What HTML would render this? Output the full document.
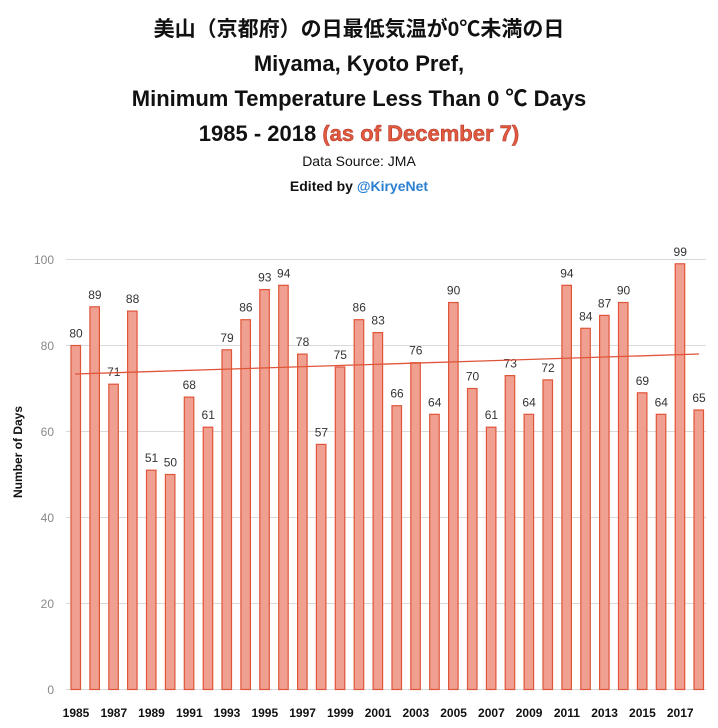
<!DOCTYPE html>
<html><head><meta charset="utf-8"><style>
body{margin:0;background:#fff;width:718px;height:723px;overflow:hidden;font-family:"Liberation Sans","Noto Sans CJK JP",sans-serif}
</style></head><body>
<svg width="718" height="723" xmlns="http://www.w3.org/2000/svg" font-family="Liberation Sans, Noto Sans CJK JP, sans-serif">
<g text-anchor="middle" font-weight="bold" fill="#111">
<text x="359" y="36" font-size="21">美山（京都府）の日最低気温が0℃未満の日</text>
<text x="359" y="71" font-size="22">Miyama, Kyoto Pref,</text>
<text x="359" y="106" font-size="22">Minimum Temperature Less Than 0 ℃ Days</text>
<text x="359" y="141" font-size="22">1985 - 2018 <tspan fill="#e05a40" stroke="#b03020" stroke-width="0.5">(as of December 7)</tspan></text>
<text x="359" y="166" font-size="14" font-weight="normal">Data Source: JMA</text>
<text x="359" y="191" font-size="14">Edited by <tspan fill="#2a7fd0">@KiryeNet</tspan></text>
</g>
<g stroke="#d9d9d9" stroke-width="1">
<line x1="66" x2="706" y1="259.5" y2="259.5"/><line x1="66" x2="706" y1="345.5" y2="345.5"/>
<line x1="66" x2="706" y1="431.5" y2="431.5"/><line x1="66" x2="706" y1="517.5" y2="517.5"/>
<line x1="66" x2="706" y1="603.5" y2="603.5"/><line x1="66" x2="706" y1="689.5" y2="689.5"/>
</g>
<g font-size="12" fill="#888" text-anchor="end">
<text x="54" y="264">100</text><text x="54" y="350">80</text><text x="54" y="436">60</text>
<text x="54" y="522">40</text><text x="54" y="608">20</text><text x="54" y="694">0</text>
</g>
<text transform="translate(22,452) rotate(-90)" text-anchor="middle" font-size="12" font-weight="bold" fill="#111">Number of Days</text>
<g fill="#f0a090" stroke="#e0553a" stroke-width="1.2">
<rect x="71.0" y="345.5" width="9.5" height="344"/>
<rect x="89.9" y="306.8" width="9.5" height="382.7"/>
<rect x="108.8" y="384.2" width="9.5" height="305.3"/>
<rect x="127.6" y="311.1" width="9.5" height="378.4"/>
<rect x="146.5" y="470.2" width="9.5" height="219.3"/>
<rect x="165.4" y="474.5" width="9.5" height="215"/>
<rect x="184.3" y="397.1" width="9.5" height="292.4"/>
<rect x="203.2" y="427.2" width="9.5" height="262.3"/>
<rect x="222.0" y="349.8" width="9.5" height="339.7"/>
<rect x="240.9" y="319.7" width="9.5" height="369.8"/>
<rect x="259.8" y="289.6" width="9.5" height="399.9"/>
<rect x="278.7" y="285.3" width="9.5" height="404.2"/>
<rect x="297.6" y="354.1" width="9.5" height="335.4"/>
<rect x="316.4" y="444.4" width="9.5" height="245.1"/>
<rect x="335.3" y="367.0" width="9.5" height="322.5"/>
<rect x="354.2" y="319.7" width="9.5" height="369.8"/>
<rect x="373.1" y="332.6" width="9.5" height="356.9"/>
<rect x="392.0" y="405.7" width="9.5" height="283.8"/>
<rect x="410.8" y="362.7" width="9.5" height="326.8"/>
<rect x="429.7" y="414.3" width="9.5" height="275.2"/>
<rect x="448.6" y="302.5" width="9.5" height="387"/>
<rect x="467.5" y="388.5" width="9.5" height="301"/>
<rect x="486.4" y="427.2" width="9.5" height="262.3"/>
<rect x="505.2" y="375.6" width="9.5" height="313.9"/>
<rect x="524.1" y="414.3" width="9.5" height="275.2"/>
<rect x="543.0" y="379.9" width="9.5" height="309.6"/>
<rect x="561.9" y="285.3" width="9.5" height="404.2"/>
<rect x="580.8" y="328.3" width="9.5" height="361.2"/>
<rect x="599.6" y="315.4" width="9.5" height="374.1"/>
<rect x="618.5" y="302.5" width="9.5" height="387"/>
<rect x="637.4" y="392.8" width="9.5" height="296.7"/>
<rect x="656.3" y="414.3" width="9.5" height="275.2"/>
<rect x="675.2" y="263.8" width="9.5" height="425.7"/>
<rect x="694.0" y="410.0" width="9.5" height="279.5"/>
</g>
<g font-size="12" fill="#333" text-anchor="middle">
<text x="76.0" y="337.5">80</text>
<text x="94.9" y="298.8">89</text>
<text x="113.8" y="376.2">71</text>
<text x="132.6" y="303.1">88</text>
<text x="151.5" y="462.2">51</text>
<text x="170.4" y="466.5">50</text>
<text x="189.3" y="389.1">68</text>
<text x="208.2" y="419.2">61</text>
<text x="227.0" y="341.8">79</text>
<text x="245.9" y="311.7">86</text>
<text x="264.8" y="281.6">93</text>
<text x="283.7" y="277.3">94</text>
<text x="302.6" y="346.1">78</text>
<text x="321.4" y="436.4">57</text>
<text x="340.3" y="359.0">75</text>
<text x="359.2" y="311.7">86</text>
<text x="378.1" y="324.6">83</text>
<text x="397.0" y="397.7">66</text>
<text x="415.8" y="354.7">76</text>
<text x="434.7" y="406.3">64</text>
<text x="453.6" y="294.5">90</text>
<text x="472.5" y="380.5">70</text>
<text x="491.4" y="419.2">61</text>
<text x="510.2" y="367.6">73</text>
<text x="529.1" y="406.3">64</text>
<text x="548.0" y="371.9">72</text>
<text x="566.9" y="277.3">94</text>
<text x="585.8" y="320.3">84</text>
<text x="604.6" y="307.4">87</text>
<text x="623.5" y="294.5">90</text>
<text x="642.4" y="384.8">69</text>
<text x="661.3" y="406.3">64</text>
<text x="680.2" y="255.8">99</text>
<text x="699.0" y="402.0">65</text>
</g>
<line x1="75" y1="374" x2="699" y2="354" stroke="#e0553a" stroke-width="1.3"/>
<g font-size="12" font-weight="bold" fill="#111" text-anchor="middle">
<text x="76.0" y="717">1985</text>
<text x="113.8" y="717">1987</text>
<text x="151.5" y="717">1989</text>
<text x="189.3" y="717">1991</text>
<text x="227.0" y="717">1993</text>
<text x="264.8" y="717">1995</text>
<text x="302.6" y="717">1997</text>
<text x="340.3" y="717">1999</text>
<text x="378.1" y="717">2001</text>
<text x="415.8" y="717">2003</text>
<text x="453.6" y="717">2005</text>
<text x="491.4" y="717">2007</text>
<text x="529.1" y="717">2009</text>
<text x="566.9" y="717">2011</text>
<text x="604.6" y="717">2013</text>
<text x="642.4" y="717">2015</text>
<text x="680.2" y="717">2017</text>
</g>
</svg>
</body></html>
